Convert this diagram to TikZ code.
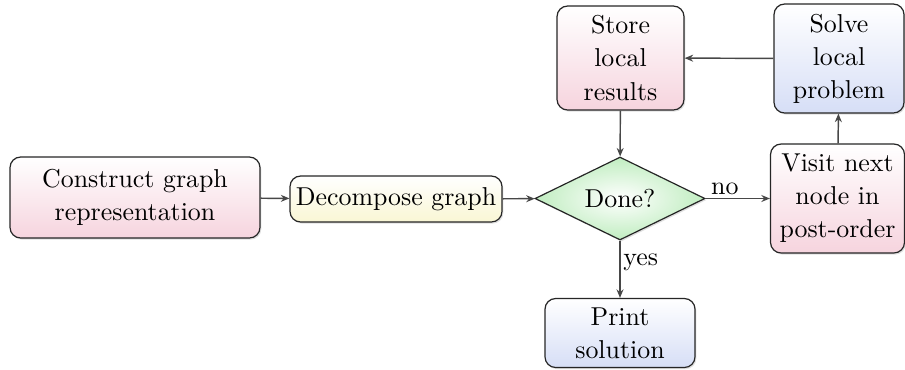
\documentclass[tikz,border=0pt]{standalone}
\usepackage{fontspec}
\usetikzlibrary{shapes.geometric,arrows.meta,shadows}
\definecolor{pinkend}{RGB}{246,212,222}
\definecolor{blueend}{RGB}{214,222,246}
\definecolor{yellowend}{RGB}{249,246,212}
\definecolor{greenedge}{RGB}{192,237,192}
\begin{document}
\begin{tikzpicture}[x=0.375pt,y=-0.375pt,
  font=\fontsize{9.7}{12.4}\selectfont,
  boxbase/.style={draw=black!85,line width=0.45pt,rounded corners=4pt,align=center,
    inner sep=0pt,drop shadow={shadow xshift=0.5pt,shadow yshift=-0.6pt,opacity=0.25}},
  redbox/.style={boxbase,top color=white,bottom color=pinkend},
  bluebox/.style={boxbase,top color=white,bottom color=blueend},
  yellowbox/.style={boxbase,top color=white,bottom color=yellowend},
  decision/.style={diamond,draw=black!85,line width=0.45pt,aspect=2.05,inner sep=1pt,
    shading=radial,inner color=white,outer color=greenedge,
    drop shadow={shadow xshift=0.5pt,shadow yshift=-0.6pt,opacity=0.25}},
  link/.style={draw=black!72,line width=0.55pt,-{Stealth[length=3.2pt,width=2.6pt]}},
  lbl/.style={inner sep=1pt}]
\useasboundingbox (0,0) rectangle (905,369);

\node[redbox,minimum width=250*0.375pt,minimum height=81*0.375pt] (construct) at (135,197.5)
  {Construct graph\\representation};
\node[yellowbox,minimum width=212*0.375pt,minimum height=46*0.375pt] (decompose) at (396,199)
  {Decompose graph};
\node[decision,minimum width=170*0.375pt,minimum height=83*0.375pt] (done) at (620,198.5)
  {Done?};
\node[redbox,minimum width=134*0.375pt,minimum height=109*0.375pt] (visit) at (837.5,198.5)
  {Visit next\\node in\\post-order};
\node[bluebox,minimum width=130*0.375pt,minimum height=109*0.375pt] (solve) at (839,58.5)
  {Solve\\local\\problem};
\node[redbox,minimum width=127*0.375pt,minimum height=104*0.375pt] (store) at (620.5,58)
  {Store\\local\\results};
\node[bluebox,minimum width=150*0.375pt,minimum height=69*0.375pt] (print) at (620,333)
  {Print\\solution};

\draw[link] (construct) -- (decompose);
\draw[link] (decompose) -- (done);
\draw[link] (done) -- node[lbl,above,pos=0.3] {no} (visit);
\draw[link] (visit) -- (solve);
\draw[link] (solve) -- (store);
\draw[link] (store) -- (done);
\draw[link] (done) -- node[lbl,right,pos=0.38] {yes} (print);
\end{tikzpicture}
\end{document}
